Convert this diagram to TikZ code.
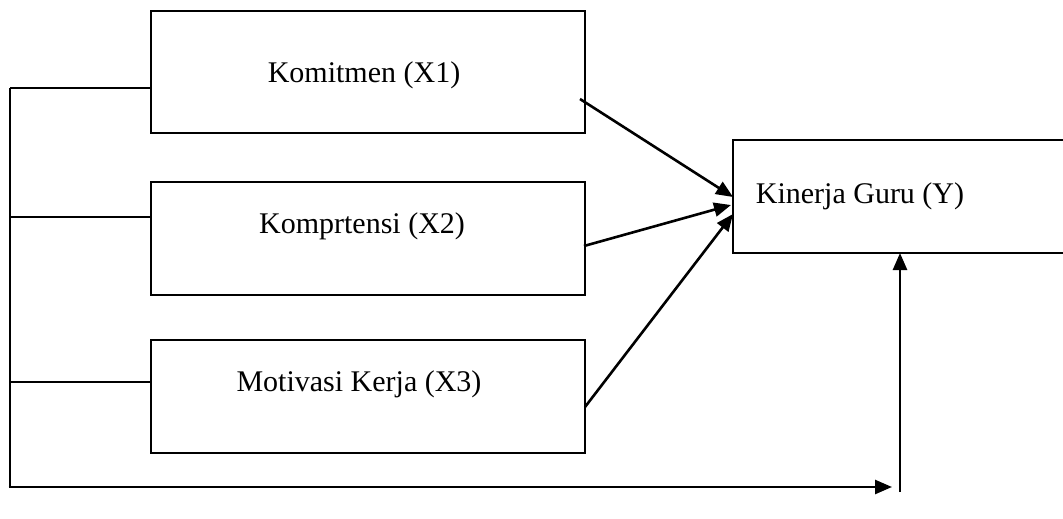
\documentclass[tikz,border=0pt]{standalone}
\usepackage{fontspec}
\setmainfont{Liberation Serif}
\usetikzlibrary{arrows.meta}
\begin{document}
\begin{tikzpicture}[x=1pt,y=-1pt,
  box/.style={draw,line width=2.6pt,rectangle,inner sep=0pt},
  lbl/.style={font=\fontsize{30}{34}\selectfont,inner sep=0pt,anchor=base},
  stub/.style={line width=1.3pt},
  conn/.style={line width=2.6pt,-{Triangle[length=17pt,width=14pt]}}]
\useasboundingbox (0,0) rectangle (1063,519);
\fill[white] (0,0) rectangle (1063,519);
% boxes
\node[box,minimum width=434pt,minimum height=122pt] (x1) at (368,72) {};
\node[box,minimum width=434pt,minimum height=113pt] (x2) at (368,238.5) {};
\node[box,minimum width=434pt,minimum height=113pt] (x3) at (368,396.5) {};
\draw[line width=2.6pt] (1075,140) -- (733,140) -- (733,253) -- (1075,253);
\coordinate (yL) at (733,197);
\coordinate (yB) at (900,253);
% labels
\node[lbl] (t1) at (364,82) {Komitmen (X1)};
\node[lbl] (t2) at (362,233) {Komprtensi (X2)};
\node[lbl] (t3) at (359,391) {Motivasi Kerja (X3)};
\node[lbl] (ty) at (860,203) {Kinerja Guru (Y)};
% left bracket
\coordinate (c1) at (10,88);
\coordinate (c2) at (10,217);
\coordinate (c3) at (10,382);
\coordinate (cb) at (10,487);
\coordinate (be) at (892,487);
\coordinate (vb) at (900,492);
\draw[stub] (x1.west |- c1) -- (c1);
\draw[stub] (x2.west |- c2) -- (c2);
\draw[stub] (x3.west |- c3) -- (c3);
\draw[line width=2.6pt] (c1) -- (cb);
\draw[conn] ([xshift=-1.3pt]cb) -- (be);
\draw[conn] (vb) -- (yB);
% arrows to Y
\coordinate (s1) at (580,99);
\coordinate (s2) at (584,246);
\coordinate (s3) at (585,407);
\draw[conn] (s1) -- (yL);
\draw[conn] (s2) -- (731,205);
\draw[conn] (s3) -- (733,214);
\end{tikzpicture}
\end{document}
